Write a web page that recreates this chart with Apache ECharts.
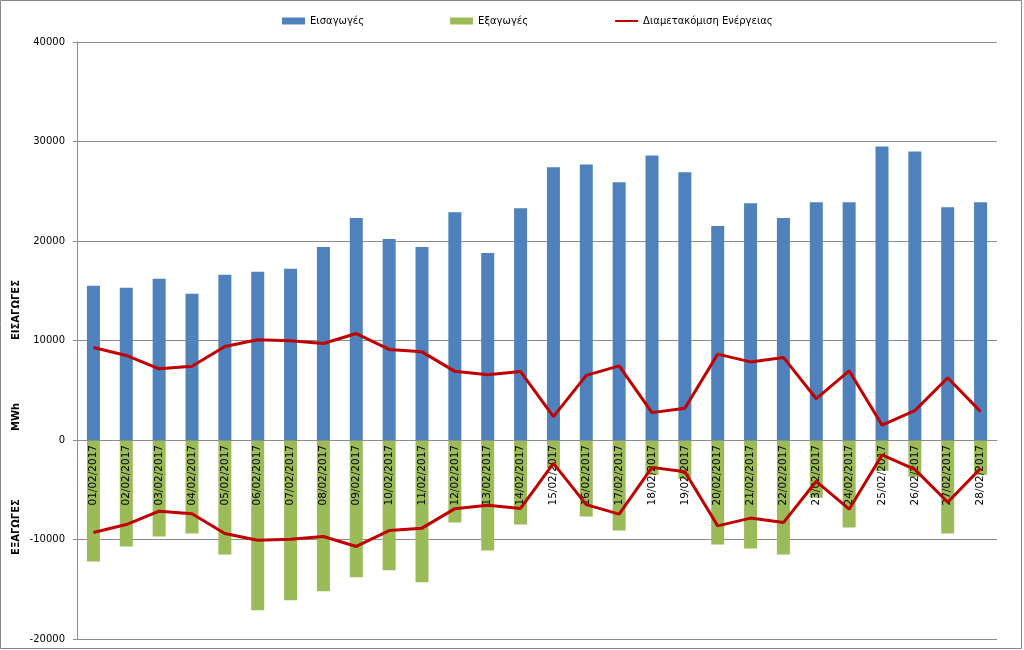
<!DOCTYPE html>
<html>
<head>
<meta charset="utf-8">
<script src="https://cdn.jsdelivr.net/npm/echarts@6/dist/echarts.min.js"></script>
<style>
  html, body { margin: 0; padding: 0; background: #fff; }
  #chart { width: 1024px; height: 650px; }
</style>
</head>
<body>
<div id="chart"></div>
<script>
  const days = [
    '01/02/2017', '02/02/2017', '03/02/2017', '04/02/2017', '05/02/2017', '06/02/2017', '07/02/2017',
    '08/02/2017', '09/02/2017', '10/02/2017', '11/02/2017', '12/02/2017', '13/02/2017', '14/02/2017',
    '15/02/2017', '16/02/2017', '17/02/2017', '18/02/2017', '19/02/2017', '20/02/2017', '21/02/2017',
    '22/02/2017', '23/02/2017', '24/02/2017', '25/02/2017', '26/02/2017', '27/02/2017', '28/02/2017'
  ]
  // Εισαγωγές (MWh)
  const imports = [
    15500, 15300, 16200, 14700, 16600, 16900, 17200, 19400, 22300, 20200, 19400, 22900, 18800, 23300,
    27400, 27700, 25900, 28600, 26900, 21500, 23800, 22300, 23900, 23900, 29500, 29000, 23400, 23900
  ]
  // Εξαγωγές (MWh, αρνητικά)
  const exports = [
    -12200, -10700, -9700, -9400, -11500, -17100, -16100, -15200, -13800, -13100, -14300, -8300, -11100, -8500,
    -2800, -7700, -9100, -3500, -3900, -10500, -10900, -11500, -5800, -8800, -3100, -3700, -9400, -3500
  ]
  // Διαμετακόμιση (σχεδιάζεται και πάνω και κάτω από το 0)
  const transit = [
    9300, 8500, 7150, 7420, 9400, 10070, 9970, 9700, 10700, 9100, 8860, 6900, 6550, 6880,
    2350, 6500, 7450, 2750, 3200, 8630, 7850, 8300, 4150, 6950, 1500, 2950, 6250, 2850
  ]

  const font = 'DejaVu Sans'
  const gridColor = '#8c8c8c'
  const transitName = 'Διαμετακόμιση Ενέργειας'

  const chart = echarts.init(document.getElementById('chart'))
  chart.setOption({
    animation: false,
    textStyle: { fontFamily: font },
    legend: {
      left: 277,
      top: 11,
      itemGap: 86,
      itemWidth: 23,
      itemHeight: 7,
      textStyle: { fontSize: 10, color: '#000', fontFamily: font },
      data: [
        { name: 'Εισαγωγές', icon: 'rect' },
        { name: 'Εξαγωγές', icon: 'rect' },
        { name: transitName, itemStyle: { opacity: 0 } }
      ]
    },
    grid: {
      left: 77,
      right: 27,
      top: 42,
      bottom: 11,
      containLabel: false,
      outerBoundsMode: 'none'
    },
    xAxis: {
      type: 'category',
      data: days,
      z: 3,
      position: 'bottom',
      // ο άξονας κατηγοριών κάθεται στο 0 (2 από τα 6 διαστήματα πάνω από το κάτω άκρο)
      offset: -199,
      axisLine: { onZero: false, lineStyle: { color: gridColor } },
      axisTick: { show: false },
      axisLabel: {
        interval: 0,
        rotate: 90,
        margin: 5,
        color: '#000',
        fontSize: 10.5,
        fontFamily: font
      }
    },
    yAxis: {
      type: 'value',
      min: -20000,
      max: 40000,
      interval: 10000,
      axisLine: { show: true, lineStyle: { color: gridColor } },
      axisTick: { show: true, length: 4, lineStyle: { color: gridColor } },
      axisLabel: {
        color: '#000',
        fontSize: 10,
        margin: 12,
        fontFamily: font,
        formatter: (v) => String(v)
      },
      splitLine: { lineStyle: { color: gridColor, width: 1 } }
    },
    graphic: [
      {
        type: 'rect',
        shape: { x: 0.5, y: 0.5, width: 1021, height: 648 },
        style: { fill: 'none', stroke: '#888', lineWidth: 1 },
        silent: true
      },
      {
        type: 'text', x: 16, y: 310, rotation: Math.PI / 2,
        style: { text: 'ΕΙΣΑΓΩΓΕΣ', align: 'center', verticalAlign: 'middle', font: 'bold 10px DejaVu Sans', fill: '#000' }
      },
      {
        type: 'text', x: 16, y: 417, rotation: Math.PI / 2,
        style: { text: 'MWh', align: 'center', verticalAlign: 'middle', font: 'bold 10px DejaVu Sans', fill: '#000' }
      },
      {
        type: 'text', x: 16, y: 527, rotation: Math.PI / 2,
        style: { text: 'ΕΞΑΓΩΓΕΣ', align: 'center', verticalAlign: 'middle', font: 'bold 10px DejaVu Sans', fill: '#000' }
      }
    ],
    series: [
      {
        name: 'Εισαγωγές',
        type: 'bar',
        stack: 'flow',
        barWidth: 13,
        itemStyle: { color: '#4F81BD' },
        data: imports
      },
      {
        name: 'Εξαγωγές',
        type: 'bar',
        stack: 'flow',
        barWidth: 13,
        itemStyle: { color: '#9BBB59' },
        data: exports
      },
      {
        name: transitName,
        type: 'line',
        z: 5,
        symbol: 'none',
        lineStyle: { color: '#C00000', width: 3 },
        itemStyle: { color: '#C00000' },
        data: transit
      },
      {
        name: transitName,
        type: 'line',
        z: 5,
        symbol: 'none',
        lineStyle: { color: '#C00000', width: 3 },
        itemStyle: { color: '#C00000' },
        data: transit.map((v) => -v)
      }
    ]
  })
</script>
</body>
</html>
